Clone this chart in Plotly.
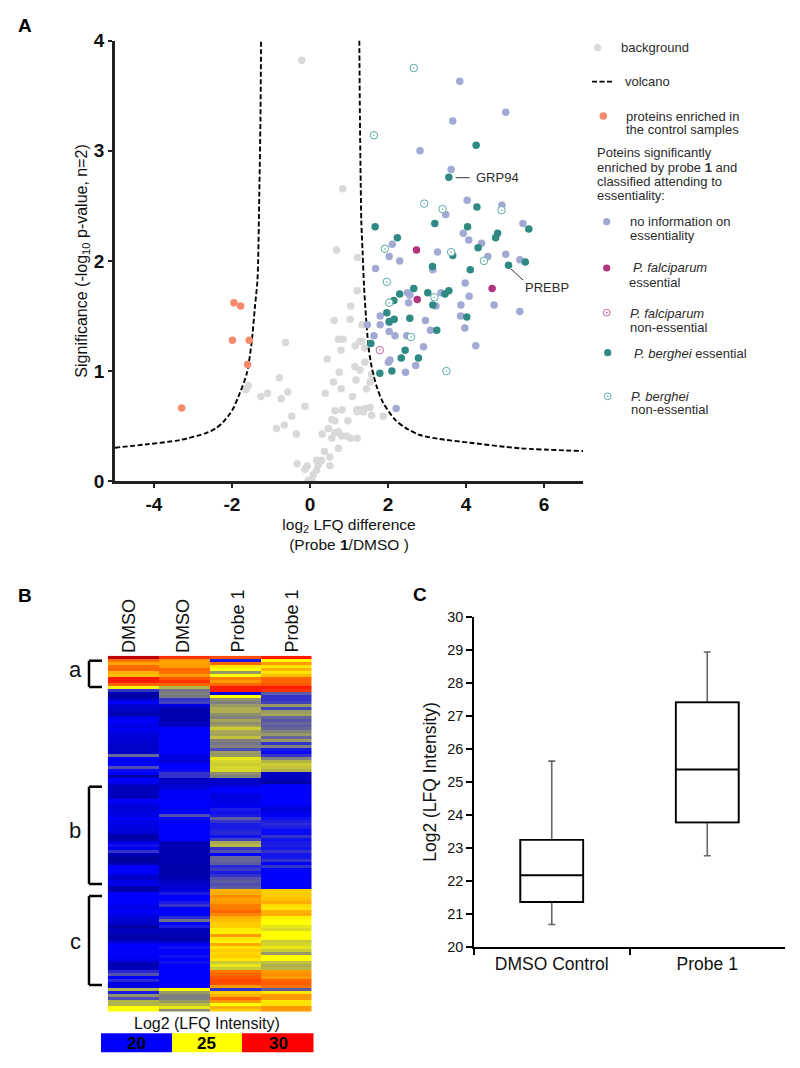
import plotly.graph_objects as go

W, H = 800, 1068

# ---------- Panel A data (log2 LFQ difference, -log10 p) ----------
bg_x = [-0.21,0.84,0.68,1.22,-1.58,-1.64,-1.26,-1.09,-0.79,-0.63,-0.57,-0.74,-0.13,-0.47,-0.66,-0.86,-0.35,-0.33,-0.13,-0.07,-0.04,0.04,0.085,0.17,0.21,0.26,0.17,0.30,0.37,0.51,0.51,0.31,0.47,0.56,0.64,0.73,0.81,0.94,1.04,1.21,0.73,0.56,0.64,0.64,0.82,0.97,1.21,1.28,0.39,0.60,0.75,0.80,1.09,0.44,0.795,0.73,0.85,1.16,1.28,0.62,1.03,1.04,1.21,1.15,1.18,1.28,1.33,1.33,1.41,1.41,1.58,1.54,1.45,1.28,1.41,1.54,1.20,1.37,1.58,1.88]
bg_y = [3.82,2.655,2.10,2.03,0.87,0.83,0.77,0.80,0.94,1.26,0.81,0.75,0.68,0.59,0.51,0.48,0.43,0.16,0.11,0.14,0.01,0.01,0.06,0.10,0.15,0.18,0.19,0.19,0.27,0.22,0.14,0.43,0.48,0.39,0.44,0.45,0.41,0.41,0.39,0.39,0.30,0.56,0.55,0.64,0.65,0.55,0.63,0.65,0.80,0.90,0.99,0.84,0.77,1.11,1.19,1.29,1.29,1.23,1.27,1.46,1.47,1.59,1.73,1.04,0.92,1.01,1.42,1.27,1.21,1.08,0.97,0.90,0.84,0.65,0.66,0.67,0.65,0.63,0.60,0.59]

ctrl_x = [-1.95,-1.78,-1.99,-1.56,-1.60,-3.29]
ctrl_y = [1.62,1.59,1.28,1.28,1.06,0.665]

noinfo_x = [3.84,5.02,3.66,2.82,3.62,4.03,4.92,3.48,5.46,3.93,4.07,2.11,2.03,2.30,1.68,3.27,3.15,4.40,4.56,5.02,5.38,3.98,4.08,3.87,3.86,3.97,4.25,4.72,5.38,3.36,2.50,2.56,2.53,3.23,2.96,3.09,1.80,1.80,1.47,2.03,2.18,2.48,1.64,2.91,2.05,2.01,2.71,2.45,2.21,2.03]
noinfo_y = [3.63,3.35,3.27,3.00,2.83,2.55,2.505,2.42,2.34,2.25,2.19,2.15,2.04,2.00,1.93,2.08,1.92,2.16,2.04,2.06,2.01,1.80,1.68,1.60,1.50,1.39,1.23,1.60,1.54,1.71,1.71,1.69,1.62,1.59,1.46,1.37,1.50,1.42,1.42,1.36,1.32,1.32,1.32,1.22,1.10,1.08,1.05,0.99,0.66,1.44]

pf_ess_x = [2.73,4.67,2.75]
pf_ess_y = [2.10,1.75,1.65]
pf_non_x = [1.79]
pf_non_y = [1.19]

pb_ess_x = [4.26,3.56,4.28,1.67,3.20,4.04,5.61,2.24,4.81,4.76,4.31,3.66,3.14,4.11,5.09,5.52,2.66,2.30,3.02,3.56,3.46,2.15,3.15,1.97,2.16,2.03,2.56,4.02,3.25,1.56,2.44,2.34,2.78,2.10,1.79]
pb_ess_y = [3.05,2.76,2.49,2.31,2.34,2.31,2.29,2.21,2.25,2.21,2.12,2.05,1.95,1.92,1.96,1.99,1.75,1.70,1.71,1.73,1.70,1.64,1.60,1.53,1.47,1.45,1.48,1.49,1.37,1.25,1.19,1.12,1.12,1.00,0.98]

pb_non_x = [2.66,1.64,2.93,3.40,4.91,1.92,1.97,3.62,4.46,3.19,2.03,2.59,3.50]
pb_non_y = [3.75,3.14,2.52,2.47,2.46,2.11,1.81,2.08,2.00,1.67,1.62,1.31,1.00]

volcano_left_x = [-5.0,-4.2,-3.33,-2.65,-2.42,-2.22,-2.08,-1.97,-1.80,-1.62,-1.50,-1.41,-1.35,-1.33,-1.30,-1.27,-1.256]
volcano_left_y = [0.305,0.335,0.375,0.44,0.48,0.54,0.60,0.66,0.80,0.98,1.25,1.59,1.81,2.0,2.6,3.3,4.0]
volcano_right_x = [1.265,1.28,1.30,1.316,1.35,1.385,1.436,1.50,1.58,1.71,1.88,2.18,2.45,2.82,3.3,4.1,5.38,7.0]
volcano_right_y = [4.0,3.3,2.7,2.356,2.07,1.77,1.49,1.22,1.04,0.86,0.71,0.56,0.485,0.42,0.385,0.35,0.30,0.275]

# ---------- Panel B data (rows top to bottom) ----------
heat_cols = ["DMSO", "DMSO ", "Probe 1", "Probe 1 "]
dmso_a = [31,27.8,26.8,27.8,28,26.5,26.3,29.5,29.5,28,24.8,21,18.5,18.3,19,20,19.2,19,18.8,18.5,19.5,20,19.8,19.3,19.8,19.5,19.3,19.3,19.2,19.2,
          19,19,19,22,20,19.8,20,21.5,20.2,20,18.5,20,19.7,18.9,18.7,18.8,18.8,18.8,20,19.6,19.3,19.3,19.4,19.5,20,19.6,19.5,19.4,19.3,19.1,
          18.3,18.5,19.5,20.3,19.5,21,18.6,18.2,18.2,18.5,20,20,20,19.2,19,19.5,19.6,18.5,18.5,20,20,20,20,19.7,19.5,20,19.6,19.3,19.1,19,
          18.3,18.8,18.8,18.5,18.5,19,20,20,19.8,20,19.8,19.7,18.8,18.6,18.8,20.8,21.6,20,20.8,19.5,19.6,23.5,20.5,22.8,21.5,23.5,23.5,25,25]
dmso_b = [29,27,26.8,27,28,27.8,27,28.3,29,28,23.5,22.3,22.5,22.3,21,21.3,19.5,18.7,18.5,18.5,18.5,18.6,18.8,19,20,20,20,20,20,20,
          20,20,20,19.6,19.4,19.2,20,20,20.2,21,21,19,19,19.2,19.3,19.8,20,20,20,20,20,19.9,20,21.5,20.2,20,20,20,20,20,
          20,20,18.8,18.7,18.6,18.7,18.6,18.6,18.7,18.5,18.5,18.5,18.5,18.5,18.6,18.8,19,19.3,19.4,20.5,20,20,20.5,21,20,19.8,20,20.8,22.2,20,
          20.5,18.8,18.7,18.6,18.5,18.8,19.8,20.3,20,20,20.3,20,20.3,20,20,20,20,20,20,20,20,25,23,22.5,22.5,23,23.7,24.5,22.8]
probe_a = [28.5,20.5,28,25.5,25,23,25,27.5,27,28,29.5,29.5,19.5,25,22.8,22.5,23,23.4,23.4,22.8,22.5,23.2,22.8,23.2,24,23.3,23.2,23.8,22.5,22.3,
           22.5,21.5,23,23,24.5,24.2,24,24.2,24.2,22.8,22.5,19,19,19.2,20,20,19.5,19.4,19.6,19.6,19.7,20.5,20.3,20.5,21.8,21,20.5,20.5,20.7,20.8,
           20.3,21.3,23.3,23.6,21,21.6,20,22,22,21.8,20.8,21.2,20.5,21,21.6,21.8,21.5,21.8,26.5,26.6,27.2,26.8,27,27.5,27.6,28,27.4,26.5,26.3,26,
           26,25.4,25.3,27,25.5,25.2,26.7,25.5,26,25.8,26,25.5,24,24.5,24,27.7,28,28.3,28.6,28.5,27,21,26,26.5,28,27,25,26.5,26]
probe_b = [29.5,25,27,25.5,26.5,25.5,26.3,28,28,28.3,29.5,29,21.8,21,21,21.3,23,21.3,23,23.2,22,21.7,22,21.8,22,22.5,23,22,23,21,
           22.5,20.5,20.2,21,22.5,23.5,24,23.8,23.5,19,18.8,18.9,18.3,19.8,20,20,20,20,20,20,19.6,19.3,19.6,19.8,20.3,20.6,20.8,20.5,20.2,20.2,
           21,20.3,20.5,20.6,20.4,21,20.4,20.4,21,20,21,20,20,20,20,20,20,20,26,26,26,26.3,26.6,25.7,25.5,26.5,26.6,25.3,25,25,
           24.5,24.3,25,25,25,24,24.2,24.5,24,23,25,25,23.8,23.4,23.6,27,27.2,27,28,28.2,27.8,21.8,25.5,27,27,25.5,25.6,27,27]
heat_scale_labels = ["20", "25", "30"]

# ---------- Panel C data ----------
box_cats = ["DMSO Control", "Probe 1"]
box_low = [20.69, 22.77]
box_q1 = [21.37, 23.78]
box_med = [22.18, 25.38]
box_q3 = [23.25, 27.41]
box_high = [25.63, 28.93]

# ---------- Colours ----------
GRAY, BLUE, TEAL, MAG, ORG = "#d9d9d9", "#a2aad4", "#2f8a84", "#b0357c", "#f58b6c"
TEAL_O, MAG_O = "#58aaa4", "#c4609c"
TXT = "#2b2b2b"
FONT = "Liberation Sans"

def px(x): return x / W
def py(y): return 1 - y / H

fig = go.Figure()

def pts(x, y, color, name):
    fig.add_trace(go.Scatter(x=x, y=y, mode="markers", name=name, cliponaxis=False,
                             marker=dict(color=color, size=7.5, line=dict(width=0))))

def open_pts(x, y, color, name):
    fig.add_trace(go.Scatter(x=x, y=y, mode="markers", showlegend=False, cliponaxis=False,
                             marker=dict(color="white", size=8, line=dict(width=0))))
    fig.add_trace(go.Scatter(x=x, y=y, mode="markers", name=name, cliponaxis=False,
                             marker=dict(color=color, size=7.5, symbol="circle-open-dot", line=dict(width=1, color=color))))

pts(bg_x, bg_y, GRAY, "background")
for vx, vy in ((volcano_left_x, volcano_left_y), (volcano_right_x, volcano_right_y)):
    fig.add_trace(go.Scatter(x=vx, y=vy, mode="lines", name="volcano",
                             line=dict(color="black", width=1.9, dash="5px,2.5px", shape="spline", smoothing=0.8)))
pts(ctrl_x, ctrl_y, ORG, "control")
pts(noinfo_x, noinfo_y, BLUE, "no information")
pts(pf_ess_x, pf_ess_y, MAG, "P. falciparum essential")
open_pts(pf_non_x, pf_non_y, MAG_O, "P. falciparum non-essential")
pts(pb_ess_x, pb_ess_y, TEAL, "P. berghei essential")
open_pts(pb_non_x, pb_non_y, TEAL_O, "P. berghei non-essential")

# Heatmap
z = [list(r) for r in zip(dmso_a, dmso_b, probe_a, probe_b)]
fig.add_trace(go.Heatmap(z=z, x=heat_cols, xaxis="x2", yaxis="y2", zmin=17, zmax=32, showscale=False, zsmooth=False,
                         colorscale=[[0, "rgb(0,0,90)"], [0.2, "rgb(0,0,255)"], [0.5333, "rgb(255,255,0)"],
                                     [0.8667, "rgb(255,0,0)"], [1, "rgb(120,0,0)"]]))

# Box plot: grey whiskers under black boxes
fig.add_trace(go.Box(x=box_cats, q1=box_q1, median=box_med, q3=box_q3, lowerfence=box_low, upperfence=box_high,
                     xaxis="x3", yaxis="y3", boxpoints=False, width=0.404, whiskerwidth=0.11,
                     line=dict(color="#666666", width=1.6), fillcolor="white"))
fig.add_trace(go.Box(x=box_cats, q1=box_q1, median=box_med, q3=box_q3, lowerfence=box_q1, upperfence=box_q3,
                     xaxis="x3", yaxis="y3", boxpoints=False, width=0.404, whiskerwidth=0,
                     line=dict(color="black", width=1.9), fillcolor="white"))

ann = []
def text(x, y, s, size=13, anchor="left", angle=0, color=TXT, vanchor="middle"):
    ann.append(dict(x=px(x), y=py(y), xref="paper", yref="paper", text=s, showarrow=False, xanchor=anchor,
                    yanchor=vanchor, textangle=angle, font=dict(size=size, color=color, family=FONT)))

shapes = []
def line(x0, y0, x1, y1, color="black", width=1, dash=None):
    shapes.append(dict(type="line", xref="paper", yref="paper", x0=px(x0), y0=py(y0), x1=px(x1), y1=py(y1),
                       line=dict(color=color, width=width, dash=dash)))
def dot(x, y, r, fill, stroke=None, width=0):
    shapes.append(dict(type="circle", xref="paper", yref="paper", x0=px(x-r), x1=px(x+r), y0=py(y-r), y1=py(y+r),
                       fillcolor=fill, line=dict(color=stroke or fill, width=width)))
def rect(x0, y0, x1, y1, fill):
    shapes.append(dict(type="rect", xref="paper", yref="paper", x0=px(x0), x1=px(x1), y0=py(y0), y1=py(y1),
                       fillcolor=fill, line=dict(width=0)))

# Panel letters
text(16, 25, "<b>A</b>", 19, color="black")
text(16, 595, "<b>B</b>", 19, color="black")
text(411, 594, "<b>C</b>", 19, color="black")

# Callouts
line(455.7, 177.7, 469.7, 177.7, "#333333", 1)
text(474, 178, "GRP94")
line(511, 269, 523, 280, "#333333", 1)
text(523, 287, "PREBP")

# Legend, panel A
dot(597.7, 47.7, 3.6, GRAY)
text(618.7, 47, "background")
line(592, 81.7, 612, 81.7, "black", 1.7, "5px,2.5px")
text(623, 82, "volcano")
dot(603.3, 116, 3.8, ORG)
text(624, 116, "proteins enriched in")
text(624, 130, "the control samples")
for yy, s in zip((153, 167, 181, 195), ("Poteins significantly", "enriched by probe <b>1</b> and", "classified attending to", "essentiality:")):
    text(595, yy, s)
dot(606.7, 221.7, 3.6, BLUE)
text(627.5, 221.7, "no information on")
text(627.5, 236, "essentiality")
dot(606.7, 268, 3.6, MAG)
text(631, 268, "<i>P. falciparum</i>")
text(627, 282, "essential")
dot(606.7, 312.7, 3.4, "white", MAG_O, 1)
dot(606.7, 312.7, 0.9, MAG_O)
text(627.5, 313, "<i>P. falciparum</i>")
text(627.5, 327, "non-essential")
dot(607.7, 352.7, 3.6, TEAL)
text(632, 353, "<i>P. berghei</i> essential")
dot(607.7, 396.3, 3.4, "white", TEAL_O, 1)
dot(607.7, 396.3, 0.9, TEAL_O)
text(629, 396, "<i>P. berghei</i>")
text(629, 410, "non-essential")

# Heatmap labels
for cx, s in zip((129, 183, 237, 291), ("DMSO", "DMSO", "Probe 1", "Probe 1")):
    ann.append(dict(x=px(cx), y=py(655), xref="paper", yref="paper", text=s, showarrow=False, xanchor="center",
                    yanchor="bottom", textangle=-90, font=dict(size=18, color="#111111", family=FONT)))
for x0, y0, y1 in ((102, 660.7, 687), (102, 786.7, 884), (102, 896, 985)):
    line(x0, y0, 89, y0, "black", 2.5)
    line(89, y0, 89, y1, "black", 2.5)
    line(89, y1, x0, y1, "black", 2.5)
text(75, 669, "a", 22, anchor="center", color="#111111")
text(75, 830, "b", 22, anchor="center", color="#111111")
text(75, 941, "c", 22, anchor="center", color="#111111")
text(207, 1023, "Log2 (LFQ Intensity)", 16, anchor="center", color="#111111")
rect(101, 1033.3, 172, 1052.3, "rgb(0,0,255)")
rect(172, 1033.3, 242, 1052.3, "rgb(255,255,0)")
rect(242, 1033.3, 313.5, 1052.3, "rgb(255,0,0)")
for cx, s in zip((136, 207, 278), heat_scale_labels):
    text(cx, 1043, f"<b>{s}</b>", 17, anchor="center", color="black")

axis_a = dict(showgrid=False, zeroline=False, showline=True, linecolor="#222222", linewidth=2.5, ticks="outside",
              ticklen=4, tickwidth=2, tickcolor="#222222", automargin=False,
              tickfont=dict(size=19, family=FONT, color="#111111"))

fig.update_layout(
    width=W, height=H, autosize=False, margin=dict(l=0, r=0, t=0, b=0, pad=0), showlegend=False,
    paper_bgcolor="white", plot_bgcolor="white", font=dict(family=FONT, color="#111111"),
    boxmode="overlay", annotations=ann, shapes=shapes,
    xaxis=dict(axis_a, domain=[px(115), px(583)], range=[-5, 7], tickvals=[-4, -2, 0, 2, 4, 6],
               ticktext=["<b>-4</b>", "<b>-2</b>", "<b>0</b>", "<b>2</b>", "<b>4</b>", "<b>6</b>"],
               title=dict(text="log<sub>2</sub> LFQ difference<br>(Probe <b>1</b>/DMSO )", font=dict(size=15.5), standoff=6)),
    yaxis=dict(axis_a, domain=[py(481.3), py(40.5)], range=[0, 4], tickvals=[0, 1, 2, 3, 4],
               ticktext=["<b>0</b>", "<b>1</b>", "<b>2</b>", "<b>3</b>", "<b>4</b>"],
               title=dict(text="Significance (-log<sub>10</sub> p-value, n=2)", font=dict(size=16), standoff=3)),
    xaxis2=dict(domain=[px(107.7), px(311.7)], visible=False, anchor="y2"),
    yaxis2=dict(domain=[py(1011.7), py(655.7)], visible=False, autorange="reversed", anchor="x2"),
    xaxis3=dict(domain=[px(474), px(785)], anchor="y3", showgrid=False, zeroline=False, showline=True, linecolor="black",
                linewidth=1.5, ticks="outside", ticklen=6, tickcolor="black", tickwidth=1.5, tickson="boundaries",
                range=[-0.5, 1.5], automargin=False, tickfont=dict(size=17.5, family=FONT, color="#111111")),
    yaxis3=dict(domain=[py(947.3), py(616.7)], anchor="x3", showgrid=False, zeroline=False, showline=True, linecolor="black",
                linewidth=1.5, ticks="outside", ticklen=6, tickcolor="black", tickwidth=1.5, range=[20, 30], dtick=1,
                automargin=False, tickfont=dict(size=14.5, family=FONT, color="#111111"),
                title=dict(text="Log2 (LFQ Intensity)", font=dict(size=17.5), standoff=6)),
)

fig.write_html("out.html", config={"displayModeBar": False},
               post_script="document.body.style.margin='0';document.documentElement.style.overflow='hidden';")
